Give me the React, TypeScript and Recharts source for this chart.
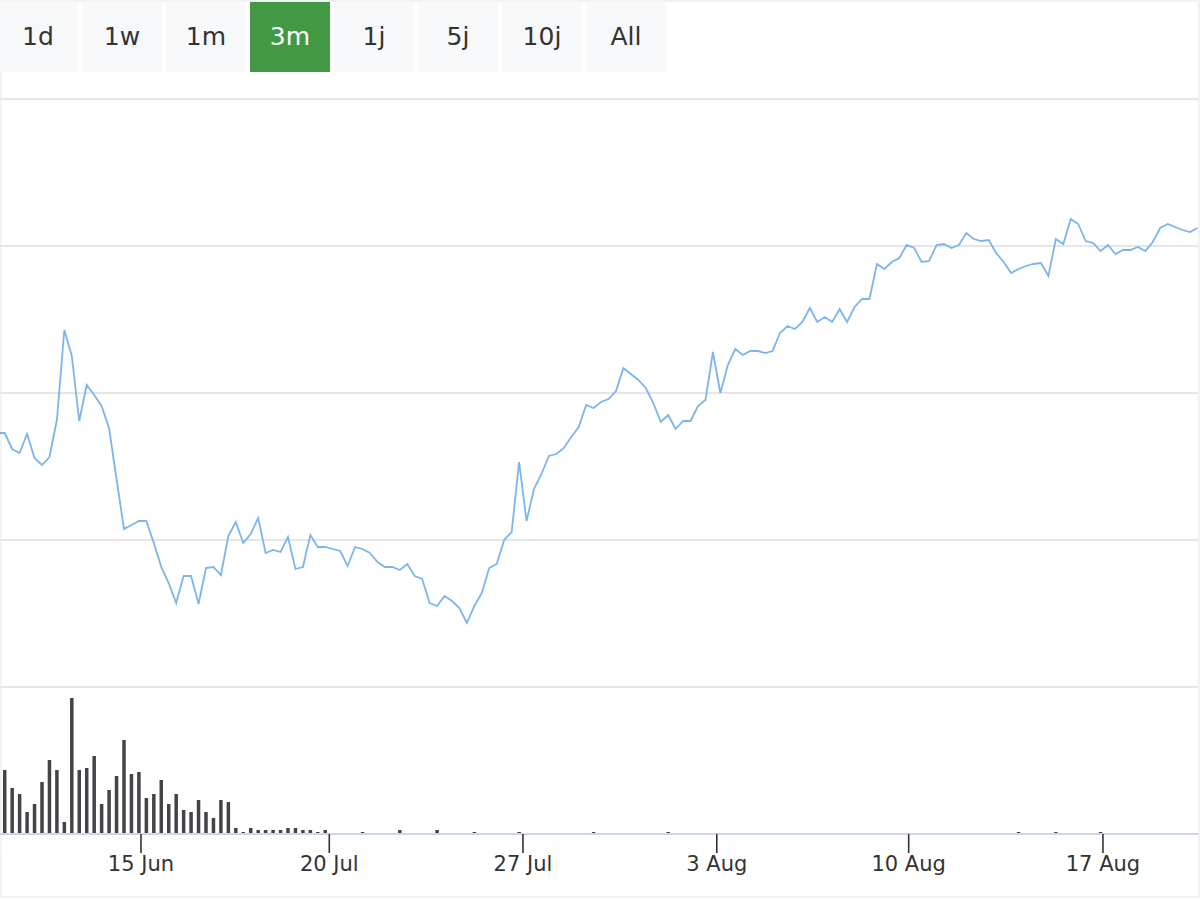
import React from 'react';
import { ComposedChart, Line, Bar, XAxis, YAxis, ReferenceLine } from 'recharts';

const rangeButtons = ['1d', '1w', '1m', '3m', '1j', '5j', '10j', 'All'];
const selectedRange = '3m';

// ordinal positions (point index) where the date labels fall
const tickPositions = [18.28, 43.54, 69.52, 95.52, 121.26, 147.32];
const tickLabels = ['15 Jun', '20 Jul', '27 Jul', '3 Aug', '10 Aug', '17 Aug'];

const firstIndex = -1;

// price series, one value per point (index -1 .. 160)
const prices = [
  401,
  401, 385, 381, 400, 376, 369, 377, 414, 504, 478,
  413, 449, 439, 428, 406, 355, 305, 309, 313, 313,
  291, 267, 251, 231, 258, 258, 230, 266, 267, 259,
  298, 312, 291, 300, 316, 281, 284, 282, 297, 265,
  267, 299, 287, 287, 285, 283, 268, 287, 285, 281,
  272, 267, 267, 264, 270, 258, 255, 231, 228, 238,
  233, 226, 211, 228, 241, 266, 270, 294, 302, 372,
  313, 345, 360, 378, 380, 386, 397, 407, 429, 426,
  432, 435, 443, 466, 460, 454, 446, 431, 412, 419,
  405, 413, 413, 428, 434, 482, 441, 469, 485, 479,
  483, 483, 481, 483, 501, 508, 505, 512, 526, 512,
  517, 512, 525, 512, 527, 535, 535, 570, 565, 572,
  576, 589, 586, 572, 573, 589, 590, 586, 589, 601,
  595, 593, 594, 581, 572, 561, 565, 568, 570, 571,
  558, 595, 590, 615, 610, 593, 591, 583, 589, 580,
  584, 584, 587, 583, 592, 606, 610, 607, 604, 602,
  606,
];

// volume series, one value per point (index -1 .. 160)
const volumes = [
  0,
  64, 46, 40, 22, 30, 52, 74, 64, 12, 136,
  64, 66, 78, 30, 44, 58, 94, 60, 62, 36,
  40, 54, 30, 40, 24, 22, 34, 22, 16, 34,
  32, 6, 2, 6, 4, 4, 4, 4, 6, 6,
  4, 4, 2, 4, 0, 0, 0, 0, 2, 0,
  0, 0, 0, 4, 0, 0, 0, 0, 4, 0,
  0, 0, 0, 2, 0, 0, 0, 0, 0, 2,
  0, 0, 0, 0, 0, 0, 0, 0, 0, 2,
  0, 0, 0, 0, 0, 0, 0, 0, 0, 2,
  0, 0, 0, 0, 0, 0, 0, 0, 0, 0,
  0, 0, 0, 0, 0, 0, 0, 0, 0, 0,
  0, 0, 0, 0, 0, 0, 0, 0, 0, 0,
  0, 0, 0, 0, 0, 0, 0, 0, 0, 0,
  0, 0, 0, 0, 0, 0, 2, 0, 0, 0,
  0, 2, 0, 0, 0, 0, 0, 2, 0, 0,
  0, 0, 0, 0, 0, 0, 0, 0, 0, 0,
  0,
];

const priceGridValues = [147, 294, 441, 588, 735];

const data = prices.map((p, i) => ({ k: firstIndex + i, price: p, volume: volumes[i] }));

const FONT = '"DejaVu Sans", Verdana, sans-serif';

function RangeSelector() {
  return (
    <>
      {rangeButtons.map((b, i) => {
        const sel = b === selectedRange;
        return (
          <div
            key={b}
            style={{
              position: 'absolute',
              left: 84 * i - 2,
              top: 2,
              width: 80,
              height: 70,
              background: sel ? '#439943' : '#f7f8fa',
              color: sel ? '#ffffff' : '#333333',
              fontFamily: FONT,
              fontSize: 25,
              lineHeight: '70px',
              textAlign: 'center',
            }}
          >
            {b}
          </div>
        );
      })}
    </>
  );
}

export default function App() {
  return (
    <div
      style={{
        position: 'absolute',
        left: 0,
        top: 0,
        width: 1200,
        height: 900,
        overflow: 'hidden',
        background: '#ffffff',
        fontFamily: FONT,
      }}
    >
      <div
        style={{
          position: 'absolute',
          left: 0,
          top: 0,
          width: 1200,
          height: 898,
          boxSizing: 'border-box',
          border: '2px solid #f2f2f2',
        }}
      />
      <div style={{ position: 'absolute', left: 0, top: 0 }}>
        <ComposedChart
          width={1200}
          height={900}
          data={data}
          margin={{ top: 99, right: 2, bottom: 6, left: 0 }}
        >
          <XAxis
            dataKey="k"
            type="number"
            domain={[-0.63, 160.07]}
            allowDataOverflow
            ticks={tickPositions}
            interval={0}
            tickFormatter={(v: number) => tickLabels[tickPositions.indexOf(v)] ?? ''}
            tickSize={19}
            tickMargin={3}
            height={60}
            axisLine={{ stroke: '#ccd6eb', strokeWidth: 2 }}
            tickLine={{ stroke: '#333333', strokeWidth: 1.6 }}
            tick={{ fill: '#333333', fontSize: 21, fontFamily: FONT }}
          />
          <YAxis
            yAxisId="price"
            type="number"
            domain={[0, 735]}
            allowDataOverflow
            width={0}
            tick={false}
            axisLine={false}
            tickLine={false}
          />
          <YAxis
            yAxisId="volume"
            orientation="right"
            type="number"
            domain={[0, 735]}
            allowDataOverflow
            width={0}
            tick={false}
            axisLine={false}
            tickLine={false}
          />
          {priceGridValues.map((v) => (
            <ReferenceLine
              key={v}
              yAxisId="price"
              y={v}
              stroke="#e6e6e6"
              strokeWidth={2}
              ifOverflow="extendDomain"
            />
          ))}
          <Bar
            yAxisId="volume"
            dataKey="volume"
            fill="#434348"
            barSize={3.5}
            isAnimationActive={false}
          />
          <Line
            yAxisId="price"
            type="linear"
            dataKey="price"
            stroke="#7cb5ec"
            strokeWidth={1.8}
            dot={false}
            activeDot={false}
            isAnimationActive={false}
          />
        </ComposedChart>
      </div>
      <RangeSelector />
    </div>
  );
}
